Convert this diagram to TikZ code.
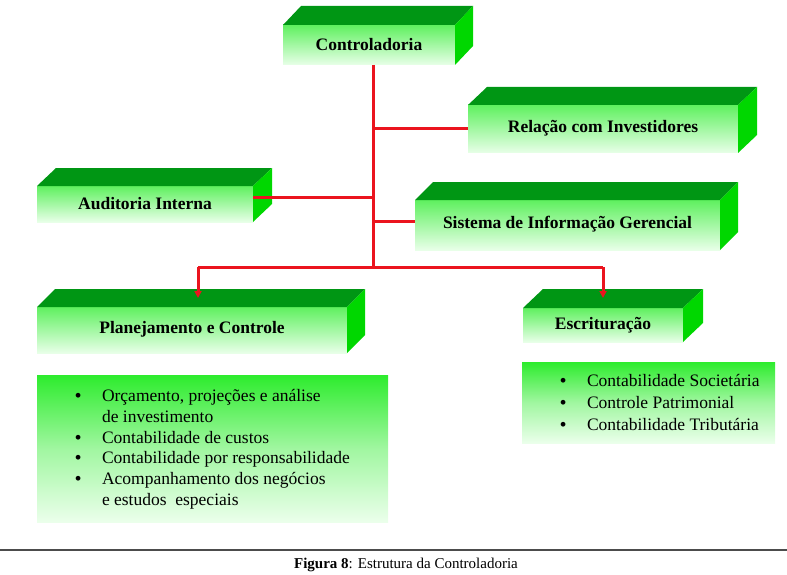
\documentclass[tikz,border=0pt]{standalone}
\usepackage{fontspec}
\setmainfont{Liberation Serif}
\usetikzlibrary{arrows.meta,calc}
\definecolor{topg}{RGB}{0,150,20}
\definecolor{sideg}{RGB}{0,215,0}
\definecolor{frontt}{RGB}{95,240,95}
\definecolor{frontb}{RGB}{232,255,232}
\definecolor{listt}{RGB}{45,236,45}
\definecolor{listb}{RGB}{235,255,235}
\definecolor{linered}{RGB}{235,20,30}
\newcommand\cuboid[3]{%
  \fill[topface] (#1.north west) -- ([shift={(#2,#3)}]#1.north west) -- ([shift={(#2,#3)}]#1.north east) -- (#1.north east) -- cycle;
  \fill[sideface] (#1.north east) -- ([shift={(#2,#3)}]#1.north east) -- ([shift={(#2,#3)}]#1.south east) -- (#1.south east) -- cycle;}
\tikzset{
  frontface/.style={inner sep=0pt, outer sep=0pt, anchor=north west, top color=frontt, bottom color=frontb, font=\fontsize{17.5}{20}\selectfont\bfseries},
  topface/.style={fill=topg},
  sideface/.style={fill=sideg},
  link/.style={draw=linered, line width=3pt},
  arr/.style={link, -{Triangle[length=7pt,width=7pt]}},
  listbox/.style={inner sep=0pt, outer sep=0pt, anchor=north west, top color=listt, bottom color=listb, middle color=listt!45!white},
  listtext/.style={inner sep=0pt, outer sep=0pt, anchor=north west, align=left},
}
\newcommand\bl{\makebox[27pt][l]{\textbf{\textbullet}}}
\begin{document}
\begin{tikzpicture}[x=1pt,y=-1pt]
\useasboundingbox (0,0) rectangle (787,575);
% boxes
\node[frontface, minimum width=172, minimum height=40] (ctrl) at (283,25) {\raisebox{2pt}{Controladoria}};
\cuboid{ctrl}{18}{-19}
\node[frontface, minimum width=270, minimum height=48] (rel) at (468,105) {\raisebox{6pt}{Relação com Investidores}};
\cuboid{rel}{19}{-18}
\node[frontface, minimum width=216, minimum height=36] (aud) at (37,186) {Auditoria Interna};
\cuboid{aud}{19}{-18}
\node[frontface, minimum width=305, minimum height=50] (sis) at (415,200) {\raisebox{6pt}{Sistema de Informação Gerencial}};
\cuboid{sis}{18}{-18}
\node[frontface, minimum width=310, minimum height=46] (plan) at (37,307) {\raisebox{5pt}{Planejamento e Controle}};
\cuboid{plan}{18}{-18}
\node[frontface, minimum width=160, minimum height=34] (esc) at (523,308) {\raisebox{-2pt}{Escrituração}};
\cuboid{esc}{20}{-19}
% lists
\node[listbox, minimum width=351, minimum height=147] (planlist) at (37,375) {};
\node[listtext] (plantext) at (75,387) {\fontsize{17.5}{20.8}\selectfont
  \begin{tabular}{@{}l@{}l@{}}
  \bl & Orçamento, projeções e análise\\
      & de investimento\\
  \bl & Contabilidade de custos\\
  \bl & Contabilidade por responsabilidade\\
  \bl & Acompanhamento dos negócios\\
      & e estudos\ \ especiais
  \end{tabular}};
\node[listbox, minimum width=253, minimum height=81] (esclist) at (522,362) {};
\node[listtext] (esctext) at (560,371) {\fontsize{17.5}{22}\selectfont
  \begin{tabular}{@{}l@{}l@{}}
  \bl & Contabilidade Societária\\
  \bl & Controle Patrimonial\\
  \bl & Contabilidade Tributária
  \end{tabular}};
% connectors
\coordinate (j) at (373,267);
\coordinate (pa) at (198,298);
\coordinate (ea) at (603,298);
\draw[link] (ctrl.south -| j) -- (j);
\draw[link] (rel.west) -- (rel.west -| j);
\draw[link] ([yshift=7pt]aud.east) -- ([yshift=7pt]aud.east -| j);
\draw[link] ([yshift=4pt]sis.west) -- ([yshift=4pt]sis.west -| j);
\draw[link] (j) -- (j -| pa);
\draw[arr] (j -| pa) -- (pa);
\draw[link] (j) -- (j -| ea);
\draw[arr] (j -| ea) -- (ea);
% caption
\coordinate (rl) at (0,550);
\coordinate (rr) at (787,550);
\draw[line width=1.5pt, black!70] (rl) -- (rr);
\node[font=\fontsize{15}{18}\selectfont] (cap) at (406,565) {\textbf{Figura 8}: Estrutura da Controladoria};
\end{tikzpicture}
\end{document}
